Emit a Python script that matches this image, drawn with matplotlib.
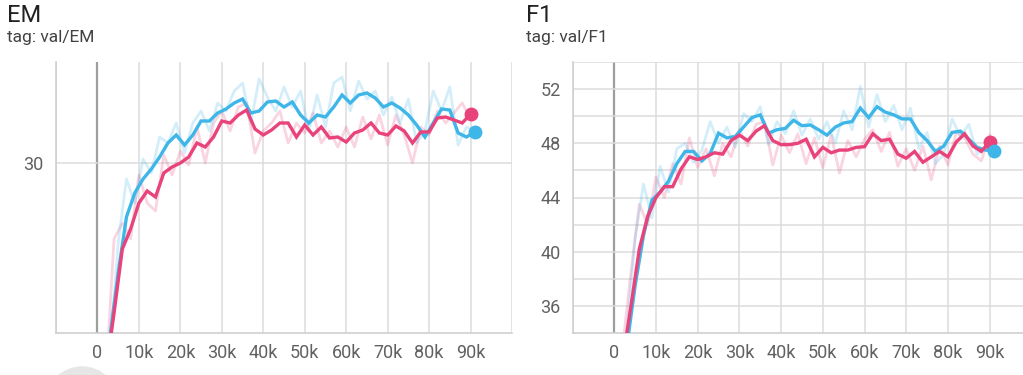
import matplotlib.pyplot as plt
from matplotlib.patches import Circle
from matplotlib.ticker import FixedLocator, FuncFormatter

plt.rcParams['font.family'] = ['Roboto', 'DejaVu Sans']

RED = '#e8437a'
BLUE = '#3fb6e8'

# step grids (thousands of steps) for the two runs
red_steps = list(range(2, 91, 2))
blue_steps = list(range(3, 92, 2))

# ---- val/EM ----
em_red_raw = [19.0, 26.2, 27.0, 26.2, 29.4, 28.0, 27.6, 30.4, 29.4, 30.6, 29.9, 31.8, 30.0, 32.0, 32.6,
              31.6, 32.8, 33.0, 30.5, 31.6, 32.0, 32.6, 31.0, 32.0, 31.5, 32.5, 31.0, 31.6, 30.8, 31.8,
              30.8, 32.3, 31.2, 32.4, 30.9, 32.4, 31.4, 30.0, 31.8, 31.4, 32.6, 32.0, 32.5, 33.0, 32.2]
em_red_smooth = [19.5, 22.5, 25.7, 26.7, 28.0, 28.6, 28.3, 29.5, 29.8, 30.0, 30.3, 31.0, 30.8, 31.3, 32.1,
                 32.0, 32.4, 32.65, 31.7, 31.4, 31.65, 32.0, 32.0, 31.3, 31.9, 31.4, 31.8, 31.25, 31.3, 31.05,
                 31.5, 31.65, 32.0, 31.5, 31.4, 31.85, 31.6, 31.0, 31.55, 31.55, 32.25, 32.3, 32.15, 32.0, 32.45]
em_blue_raw = [20.5, 26.0, 29.2, 28.0, 30.2, 29.5, 31.3, 31.0, 32.0, 30.5, 32.0, 32.6, 31.6, 33.0, 32.6,
               33.6, 34.0, 32.0, 34.2, 33.3, 32.6, 33.8, 32.8, 33.6, 31.6, 33.4, 31.8, 34.0, 34.3, 32.6,
               34.1, 33.2, 33.6, 32.4, 33.3, 32.0, 33.2, 31.0, 31.6, 33.6, 32.6, 33.8, 30.9, 31.8, 31.6]
em_blue_smooth = [21.3, 24.5, 27.3, 28.5, 29.2, 29.7, 30.3, 31.0, 31.4, 30.9, 31.4, 32.1, 32.1, 32.5, 32.7,
                  33.0, 33.2, 32.5, 32.6, 33.05, 33.1, 32.8, 33.05, 32.4, 32.0, 32.4, 32.3, 32.8, 33.4, 33.0,
                  33.4, 33.5, 33.25, 32.8, 33.0, 32.75, 32.4, 31.9, 31.3, 32.0, 32.7, 32.65, 31.5, 31.3, 31.55]

# ---- val/F1 ----
f1_red_raw = [33.0, 38.5, 43.5, 42.0, 45.5, 44.0, 46.5, 45.0, 48.4, 46.2, 47.6, 45.6, 48.0, 47.0, 49.0,
              47.8, 49.4, 49.6, 46.4, 48.6, 47.3, 48.7, 46.5, 48.4, 46.2, 48.6, 45.8, 48.2, 47.0, 48.3,
              49.0, 47.4, 48.8, 46.3, 47.6, 46.0, 47.8, 45.3, 47.8, 46.4, 48.8, 48.4, 47.2, 46.7, 48.6]
f1_red_smooth = [32.0, 36.0, 40.2, 42.6, 44.0, 44.8, 44.8, 46.1, 47.0, 46.8, 47.0, 47.3, 47.2, 48.2, 48.6,
                 48.2, 48.9, 49.3, 48.2, 47.9, 47.9, 48.0, 48.3, 47.0, 47.7, 47.3, 47.5, 47.5, 47.7, 47.75,
                 48.7, 48.2, 48.3, 47.2, 46.9, 47.4, 46.6, 47.0, 47.4, 47.0, 48.1, 48.7, 47.8, 47.4, 48.1]
f1_blue_raw = [34.0, 41.0, 45.0, 42.5, 46.3, 44.4, 47.6, 48.0, 46.6, 47.5, 49.6, 48.0, 49.2, 47.7, 50.2,
               49.6, 50.7, 47.9, 49.6, 48.7, 50.4, 48.6, 49.8, 48.3, 49.6, 48.0, 50.4, 49.0, 52.2, 49.2,
               51.6, 49.6, 50.8, 49.0, 50.6, 47.6, 48.8, 46.5, 47.2, 49.8, 48.5, 49.4, 47.2, 47.8, 47.5]
f1_blue_smooth = [33.0, 37.5, 41.2, 43.8, 44.4, 45.2, 46.5, 47.4, 47.4, 46.7, 47.25, 48.75, 48.4, 48.5, 49.2,
                  49.9, 50.1, 48.75, 49.0, 49.1, 49.7, 49.3, 49.35, 49.0, 48.6, 49.2, 49.5, 49.6, 50.6, 49.9,
                  50.7, 50.3, 50.1, 49.8, 49.8, 48.8, 48.2, 47.4, 47.8, 48.8, 48.9, 48.3, 47.7, 47.5, 47.45]

xticks = [0, 10000, 20000, 30000, 40000, 50000, 60000, 70000, 80000, 90000]


def fmt_step(v, pos):
    return '0' if v == 0 else f'{int(v / 1000)}k'


def draw_panel(ax, red_raw, red_smooth, blue_raw, blue_smooth, ylim, ygrid, ylabels, xlim):
    rs = [s * 1000 for s in red_steps]
    bs = [s * 1000 for s in blue_steps]
    ax.plot(rs, red_raw, color=RED, lw=2.0, alpha=0.22, zorder=2)
    ax.plot(bs, blue_raw, color=BLUE, lw=2.0, alpha=0.22, zorder=2)
    ax.plot(bs, blue_smooth, color=BLUE, lw=2.4, zorder=3, solid_joinstyle='miter')
    ax.plot(rs, red_smooth, color=RED, lw=2.4, zorder=4, solid_joinstyle='miter')
    ax.plot(rs[-1], red_smooth[-1], 'o', color=RED, ms=9, zorder=5)
    ax.plot(bs[-1], blue_smooth[-1], 'o', color=BLUE, ms=9, zorder=5)

    ax.set_xlim(*xlim)
    ax.set_ylim(*ylim)
    for x in range(-10000, 100001, 10000):
        if x == 0:
            ax.axvline(x, color='#9e9e9e', lw=1.6, zorder=1)
        else:
            ax.axvline(x, color='#dcdcdc', lw=1.1, zorder=1)
    for y in ygrid:
        ax.axhline(y, color='#dcdcdc', lw=1.1, zorder=1)

    ax.xaxis.set_major_locator(FixedLocator(xticks))
    ax.xaxis.set_major_formatter(FuncFormatter(fmt_step))
    ax.set_yticks(ylabels)
    ax.set_yticklabels([str(v) for v in ylabels])
    ax.tick_params(length=0, labelsize=13, labelcolor='#616161', pad=8)
    ax.tick_params(axis='y', pad=9)
    for side in ['top', 'right']:
        ax.spines[side].set_visible(False)
    for side in ['left', 'bottom']:
        ax.spines[side].set_color('#cfcfcf')
        ax.spines[side].set_linewidth(1.2)


fig = plt.figure(figsize=(10.23, 3.75), dpi=100)

ax1 = fig.add_axes([56 / 1023, 42 / 375, 456 / 1023, 271 / 375])
draw_panel(ax1, em_red_raw, em_red_smooth, em_blue_raw, em_blue_smooth,
           ylim=(21.5, 35.05), ygrid=[30], ylabels=[30], xlim=(-10000, 100000))

ax2 = fig.add_axes([573 / 1023, 42 / 375, 450 / 1023, 271 / 375])
draw_panel(ax2, f1_red_raw, f1_red_smooth, f1_blue_raw, f1_blue_smooth,
           ylim=(34, 54), ygrid=list(range(36, 55, 2)), ylabels=[36, 40, 44, 48, 52],
           xlim=(-9900, 98000))

fig.text(7 / 1023, 1 - 22 / 375, 'EM', fontsize=17, color='#212121', va='baseline')
fig.text(7 / 1023, 1 - 42 / 375, 'tag: val/EM', fontsize=12.5, color='#424242', va='baseline')
fig.text(526 / 1023, 1 - 22 / 375, 'F1', fontsize=17, color='#212121', va='baseline')
fig.text(526 / 1023, 1 - 42 / 375, 'tag: val/F1', fontsize=12.5, color='#424242', va='baseline')

# tooltip button peeking in at the bottom
fig.patches.append(Circle((82, -28), 36, transform=None, color='#e6e6e6', zorder=0))

fig.savefig('out.png', dpi=100)
